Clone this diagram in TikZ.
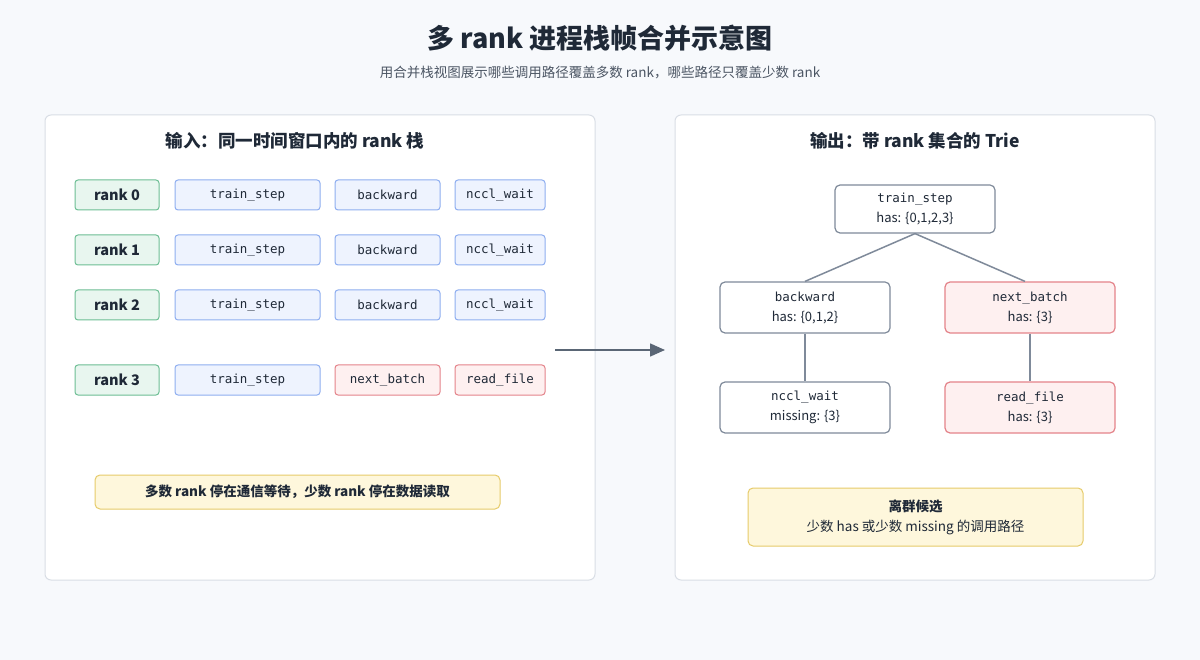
\documentclass[tikz,border=0pt]{standalone}
\usepackage{fontspec}
\setmainfont{Noto Sans CJK SC}
\setmonofont{DejaVu Sans Mono}
\usetikzlibrary{positioning,arrows.meta}
\definecolor{bgc}{HTML}{F7F9FC}
\definecolor{panelline}{HTML}{D9DEE5}
\definecolor{inkc}{HTML}{1F2937}
\definecolor{subc}{HTML}{4B5563}
\definecolor{greenfill}{HTML}{E8F6EF}
\definecolor{greenline}{HTML}{6DBE94}
\definecolor{bluefill}{HTML}{EEF3FE}
\definecolor{blueline}{HTML}{8EAEF0}
\definecolor{redfill}{HTML}{FEF0F0}
\definecolor{redline}{HTML}{E4838A}
\definecolor{yelfill}{HTML}{FEF7DC}
\definecolor{yelline}{HTML}{E6CB6A}
\definecolor{greyline}{HTML}{7F8A9A}
\definecolor{arrowc}{HTML}{5A6675}
\tikzset{
  panel/.style={draw=panelline, fill=white, rounded corners=6pt, line width=1pt},
  rankbox/.style={rectangle, rounded corners=3pt, draw=greenline, fill=greenfill, line width=1pt, minimum width=84pt, minimum height=30pt, font=\fontsize{14.5}{16}\selectfont\bfseries, text=inkc},
  frame/.style={rectangle, rounded corners=3pt, draw=blueline, fill=bluefill, line width=1pt, minimum height=30pt, font=\ttfamily\fontsize{12.5}{14}\selectfont, text=inkc},
  badframe/.style={frame, draw=redline, fill=redfill},
  trie/.style={rectangle, rounded corners=5pt, draw=greyline, fill=white, line width=1.2pt, minimum width=170pt, minimum height=51pt, align=center, font=\fontsize{13}{20}\selectfont, text=inkc},
  badtrie/.style={trie, draw=redline, fill=redfill},
  note/.style={rectangle, rounded corners=5pt, draw=yelline, fill=yelfill, line width=1pt, align=center, text=inkc},
  edge/.style={draw=greyline, line width=1.5pt},
  applyOp/.style={-{Triangle[length=15pt,width=13pt]}, draw=arrowc, fill=arrowc, line width=1.6pt}
}
\newcommand{\fn}[1]{{\ttfamily\fontsize{12.5}{14}\selectfont #1}}
\begin{document}
\begin{tikzpicture}[x=1pt, y=-1pt]
  \fill[bgc] (0,0) rectangle (1200,660);
  \useasboundingbox (0,0) rectangle (1200,660);

  \node[font=\fontsize{27}{30}\selectfont\bfseries, text=inkc] (title) at (600,38) {多 rank 进程栈帧合并示意图};
  \node[font=\fontsize{13.5}{15}\selectfont, text=subc] (subtitle) at (600,73) {用合并栈视图展示哪些调用路径覆盖多数 rank，哪些路径只覆盖少数 rank};

  % input panel
  \draw[panel] (45,115) rectangle (595,580);
  \node[font=\fontsize{17.5}{20}\selectfont\bfseries, text=inkc] (intitle) at (295,141) {输入：同一时间窗口内的 rank 栈};

  \foreach \r/\y in {0/195, 1/250, 2/305} {
    \node[rankbox] (rank\r) at (117,\y) {rank \r};
    \node[frame, minimum width=145pt] (ts\r) at (247.5,\y) {train\_step};
    \node[frame, minimum width=105pt] (bw\r) at (387.5,\y) {backward};
    \node[frame, minimum width=90pt] (nw\r) at (500,\y) {nccl\_wait};
  }
  \node[rankbox] (rank3) at (117,380) {rank 3};
  \node[frame, minimum width=145pt] (ts3) at (247.5,380) {train\_step};
  \node[badframe, minimum width=105pt] (nb3) at (387.5,380) {next\_batch};
  \node[badframe, minimum width=90pt] (rf3) at (500,380) {read\_file};

  \node[note, minimum width=405pt, minimum height=34pt, font=\fontsize{13.5}{15}\selectfont\bfseries] (innote) at (297.5,492) {多数 rank 停在通信等待，少数 rank 停在数据读取};

  % arrow
  \coordinate (arrowA) at (555,350);
  \coordinate (arrowB) at (665,350);
  \draw[applyOp] (arrowA) -- (arrowB);

  % output panel
  \draw[panel] (675,115) rectangle (1155,580);
  \node[font=\fontsize{17.5}{20}\selectfont\bfseries, text=inkc] (outtitle) at (915,141) {输出：带 rank 集合的 Trie};

  \node[trie, minimum width=160pt, minimum height=48pt] (root) at (915,209) {\fn{train\_step}\\has: \{0,1,2,3\}};
  \node[trie] (back) at (805,307.5) {\fn{backward}\\has: \{0,1,2\}};
  \node[badtrie] (next) at (1030,307.5) {\fn{next\_batch}\\has: \{3\}};
  \node[trie] (wait) at (805,407.5) {\fn{nccl\_wait}\\missing: \{3\}};
  \node[badtrie] (read) at (1030,407.5) {\fn{read\_file}\\has: \{3\}};

  \draw[edge] (root.south) -- (back.north);
  \draw[edge] (root.south) -- ([xshift=-5pt]next.north);
  \draw[edge] (back) -- (wait);
  \draw[edge] (next) -- (read);

  \node[note, minimum width=335pt, minimum height=58pt, font=\fontsize{13.5}{20}\selectfont] (legend) at (915.5,517) {\textbf{离群候选}\\少数 has 或少数 missing 的调用路径};
\end{tikzpicture}
\end{document}
